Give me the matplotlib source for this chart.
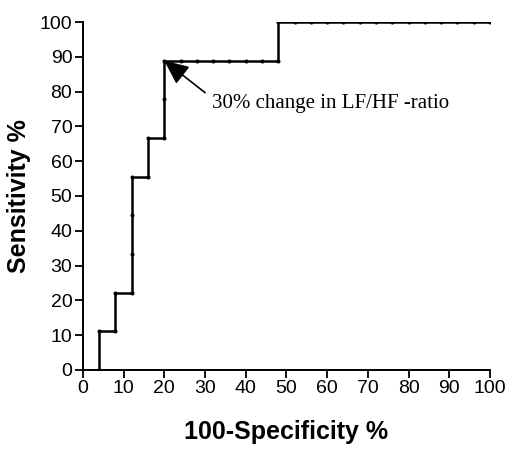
import matplotlib
matplotlib.use("Agg")
import matplotlib.pyplot as plt

# ROC points (100-Specificity %, Sensitivity %)
fpr = [4, 4, 8, 8, 12, 12, 12, 12, 16, 16, 20, 20, 20,
       24, 28, 32, 36, 40, 44, 48, 48,
       52, 56, 60, 64, 68, 72, 76, 80, 84, 88, 92, 96, 100]
tpr = [0, 11.1, 11.1, 22.2, 22.2, 33.3, 44.4, 55.6, 55.6, 66.7, 66.7, 77.8, 88.9,
       88.9, 88.9, 88.9, 88.9, 88.9, 88.9, 88.9, 100,
       100, 100, 100, 100, 100, 100, 100, 100, 100, 100, 100, 100, 100]

xticks = list(range(0, 101, 10))
yticks = list(range(0, 101, 10))
annot_text = "30% change in LF/HF -ratio"
annot_point = (20, 88.9)
annot_text_pos = (31.8, 76.7)

fig = plt.figure(figsize=(5.11, 4.49), dpi=100)
ax = fig.add_axes([0.162, 0.176, 0.797, 0.775])

ax.plot(fpr, tpr, color="black", lw=1.8, marker="o", ms=1.9, mfc="black", mec="black")

ax.annotate(annot_text, xy=annot_point, xytext=annot_text_pos,
            fontsize=15, family="Liberation Serif", va="center", ha="left",
            arrowprops=dict(arrowstyle="-|>,head_length=1.0,head_width=0.45",
                            color="black", lw=1.2, shrinkA=4, shrinkB=0,
                            relpos=(0.0, 0.75)))

ax.set_xlim(0, 100)
ax.set_ylim(0, 100)
ax.set_xticks(xticks)
ax.set_yticks(yticks)
ax.tick_params(direction="out", length=6, width=1.3, labelsize=14, pad=1.5)
for lab in ax.get_xticklabels() + ax.get_yticklabels():
    lab.set_family("Liberation Sans")
ax.spines["top"].set_visible(False)
ax.spines["right"].set_visible(False)
ax.spines["left"].set_linewidth(1.4)
ax.spines["bottom"].set_linewidth(1.4)
ax.set_xlabel("100-Specificity %", fontsize=18, fontweight="bold", family="Liberation Sans", labelpad=16)
ax.set_ylabel("Sensitivity %", fontsize=18, fontweight="bold", family="Liberation Sans", labelpad=6)

fig.savefig("out.png", dpi=100)
